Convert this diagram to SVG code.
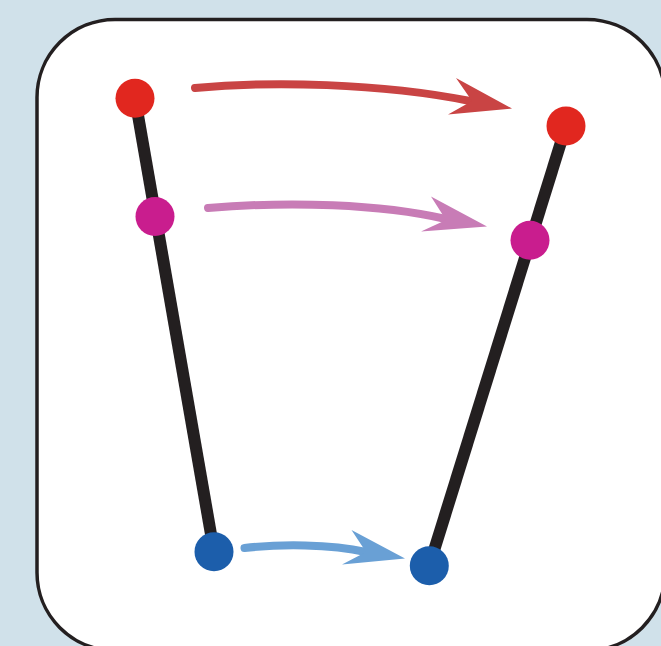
<svg xmlns="http://www.w3.org/2000/svg" width="661" height="646" viewBox="0 0 661 646">
  <style>
    .bar { stroke: #231f20; stroke-width: 12; stroke-linecap: butt; fill: none; }
    .shaft { fill: none; stroke-width: 8; stroke-linecap: round; }
    .red { fill: #e1271f; }
    .mag { fill: #c91d8e; }
    .blue { fill: #1c5eab; }
  </style>
  <rect x="0" y="0" width="661" height="646" fill="#d0e1ea"/>
  <rect id="panel" x="37" y="19.5" width="628" height="631" rx="78" ry="78" fill="#ffffff" stroke="#231f20" stroke-width="3.5"/>
  <g id="connectors">
    <line class="bar" x1="135" y1="98" x2="214" y2="551.5"/>
    <line class="bar" x1="566" y1="126" x2="429.3" y2="565.7"/>
    <g id="arrow-red">
      <path class="shaft" stroke="#c94444" d="M195,88 C270,81 380,83 470,101"/>
      <polygon fill="#c94444" points="456,78 472,101 448,114.5 512,108.5"/>
    </g>
    <g id="arrow-magenta">
      <path class="shaft" stroke="#c87cb6" d="M208,208 C290,201 380,204 446,219"/>
      <polygon fill="#c87cb6" points="431,196.5 446,220 421,231.5 487,226.5"/>
    </g>
    <g id="arrow-blue">
      <path class="shaft" stroke="#69a0d5" d="M244.5,548 C280,544 330,544 366,552"/>
      <polygon fill="#69a0d5" points="351.5,530 366,552 342,564.5 405,558.5"/>
    </g>
  </g>
  <g id="node-left-top"><circle class="red" cx="135" cy="98.3" r="19.5"/></g>
  <g id="node-left-mid"><circle class="mag" cx="155" cy="216.5" r="19.5"/></g>
  <g id="node-left-bottom"><circle class="blue" cx="214" cy="551.7" r="19.5"/></g>
  <g id="node-right-top"><circle class="red" cx="566" cy="126" r="19.5"/></g>
  <g id="node-right-mid"><circle class="mag" cx="530" cy="240.3" r="19.5"/></g>
  <g id="node-right-bottom"><circle class="blue" cx="429.3" cy="565.7" r="19.5"/></g>
</svg>
